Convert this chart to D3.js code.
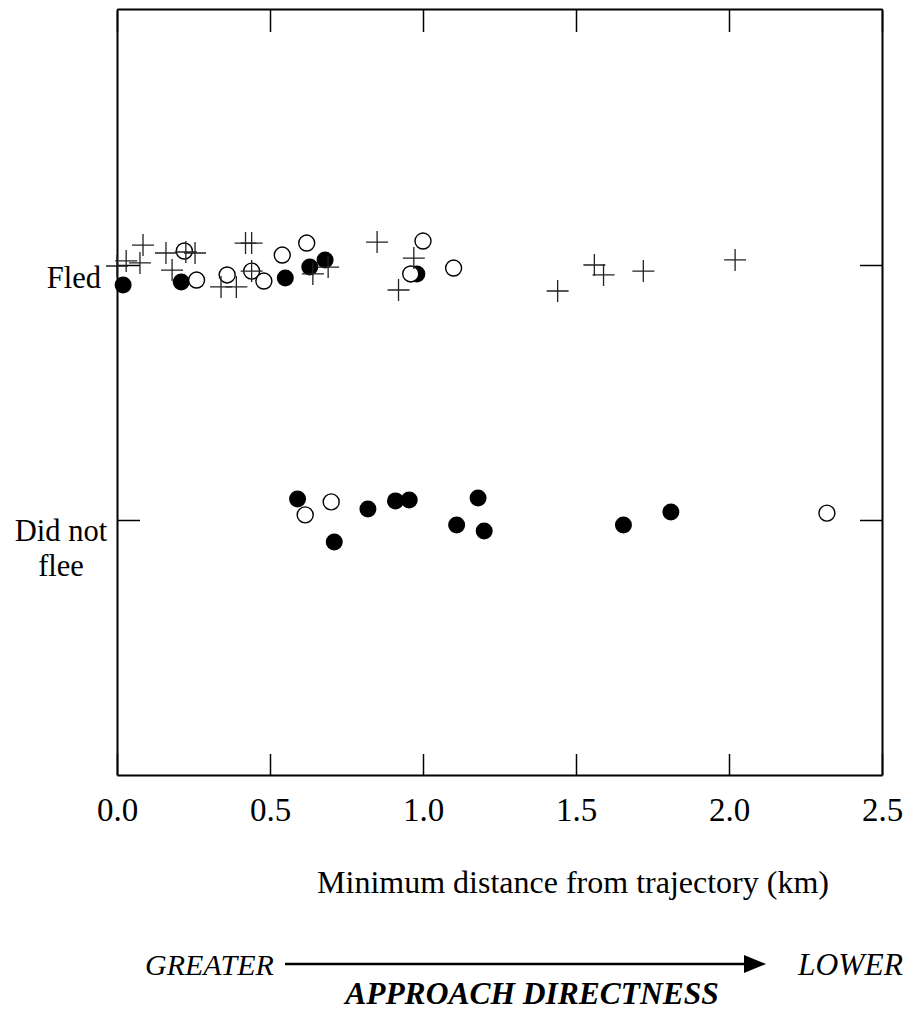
<!DOCTYPE html>
<html>
<head>
<meta charset="utf-8">
<script src="https://cdn.jsdelivr.net/npm/d3@7"></script>
<style>
  html, body { margin: 0; padding: 0; background: #fff; }
  svg { display: block; }
  text { font-family: "Liberation Serif", "Times New Roman", serif; fill: #000; }
</style>
</head>
<body>
<svg id="chart" width="915" height="1010"></svg>
<script>
// ---------- data ----------
const xTicks = [0, 0.5, 1.0, 1.5, 2.0, 2.5];
const categories = ["Did not flee", "Fled"];   // 0 = did not flee, 1 = fled

// Fled – plus markers (distance km, vertical jitter in category units)
const fledPlusDist   = [0.00, 0.03, 0.075, 0.085, 0.16, 0.18, 0.225, 0.255, 0.34, 0.39, 0.42, 0.44, 0.44, 0.64, 0.69, 0.85, 0.92, 0.97, 1.44, 1.56, 1.59, 1.72, 2.02];
const fledPlusJitter = [-0.004, 0.016, 0.008, 0.078, 0.047, -0.020, 0.051, 0.047, -0.086, -0.086, 0.086, 0.086, -0.024, -0.035, -0.008, 0.090, -0.098, 0.027, -0.102, 0.000, -0.039, -0.024, 0.020];

// Fled – filled circles
const fledFilledDist   = [0.02, 0.21, 0.55, 0.63, 0.68, 0.98];
const fledFilledJitter = [-0.078, -0.067, -0.051, -0.008, 0.020, -0.035];

// Fled – open circles
const fledOpenDist   = [0.22, 0.26, 0.36, 0.44, 0.48, 0.54, 0.62, 1.00, 0.96, 1.10];
const fledOpenJitter = [0.055, -0.059, -0.039, -0.024, -0.063, 0.039, 0.086, 0.094, -0.035, -0.012];

// Did not flee – filled circles
const dnfFilledDist   = [0.59, 0.71, 0.82, 0.91, 0.955, 1.11, 1.18, 1.20, 1.655, 1.81];
const dnfFilledJitter = [0.082, -0.086, 0.043, 0.075, 0.078, -0.020, 0.086, -0.043, -0.020, 0.031];

// Did not flee – open circles
const dnfOpenDist   = [0.615, 0.70, 2.32];
const dnfOpenJitter = [0.020, 0.071, 0.027];

// ---------- layout ----------
const svg = d3.select("#chart");
const L = 117, R = 882, T = 9, B = 775;
const x = d3.scaleLinear().domain([0, 2.5]).range([L, R]);
const y = d3.scaleLinear().domain([-1, 2]).range([B, T + 1]);

const pts = (dist, jit, cat) => dist.map((d, i) => ({ d, v: cat + jit[i] }));
const fledPlus   = pts(fledPlusDist, fledPlusJitter, 1);
const fledFilled = pts(fledFilledDist, fledFilledJitter, 1);
const fledOpen   = pts(fledOpenDist, fledOpenJitter, 1);
const dnfFilled  = pts(dnfFilledDist, dnfFilledJitter, 0);
const dnfOpen    = pts(dnfOpenDist, dnfOpenJitter, 0);

// ---------- axes ----------
const fmt = d3.format(".1f");
const gB = svg.append("g").attr("transform", `translate(0,${B})`)
  .call(d3.axisBottom(x).tickValues(xTicks).tickFormat(fmt).tickSizeInner(-21).tickSizeOuter(0).tickPadding(23));
const gT = svg.append("g").attr("transform", `translate(0,${T})`)
  .call(d3.axisTop(x).tickValues(xTicks).tickFormat("").tickSizeInner(-23).tickSizeOuter(0));
const gL = svg.append("g").attr("transform", `translate(${L},0)`)
  .call(d3.axisLeft(y).tickValues([0, 1]).tickFormat("").tickSizeInner(-23).tickSizeOuter(0));
const gR = svg.append("g").attr("transform", `translate(${R},0)`)
  .call(d3.axisRight(y).tickValues([0, 1]).tickFormat("").tickSizeInner(-22).tickSizeOuter(0));

[gB, gT, gL, gR].forEach(g => {
  g.select(".domain").attr("stroke", "#000").attr("stroke-width", 2);
  g.selectAll(".tick line").attr("stroke", "#000").attr("stroke-width", 1.5);
});
gB.selectAll(".tick text").attr("font-size", 33).attr("font-family", "Liberation Serif").attr("fill", "#000");

// Category labels
svg.append("text").attr("x", 101).attr("y", y(1) + 23).attr("text-anchor", "end")
  .attr("font-size", 30.5).text("Fled");
const dnf = svg.append("text").attr("x", 61).attr("y", y(0) + 21).attr("text-anchor", "middle").attr("font-size", 30.5);
dnf.append("tspan").attr("x", 61).text("Did not");
dnf.append("tspan").attr("x", 61).attr("dy", 35).text("flee");

// ---------- marks ----------
const R0 = 8.5;
const plot = svg.append("g");
plot.selectAll(".filled").data(fledFilled.concat(dnfFilled)).join("circle")
  .attr("class", "filled").attr("cx", p => x(p.d)).attr("cy", p => y(p.v)).attr("r", R0)
  .attr("fill", "#000");
plot.selectAll(".open").data(fledOpen.concat(dnfOpen)).join("circle")
  .attr("class", "open").attr("cx", p => x(p.d)).attr("cy", p => y(p.v)).attr("r", R0 - 0.5)
  .attr("fill", "#fff").attr("stroke", "#000").attr("stroke-width", 1.4);
plot.selectAll(".plus").data(fledPlus).join("path")
  .attr("class", "plus")
  .attr("d", p => { const cx = x(p.d), cy = y(p.v), h = 11;
    return `M${cx - h},${cy}H${cx + h}M${cx},${cy - h}V${cy + h}`; })
  .attr("fill", "none").attr("stroke", "#222").attr("stroke-width", 1.3);

// ---------- titles ----------
svg.append("text").attr("x", 573).attr("y", 893).attr("text-anchor", "middle")
  .attr("font-size", 32).text("Minimum distance from trajectory (km)");

svg.append("text").attr("x", 145).attr("y", 975).attr("font-size", 30).attr("font-style", "italic")
  .text("GREATER");
svg.append("text").attr("x", 903).attr("y", 975).attr("text-anchor", "end").attr("font-size", 31.5)
  .attr("font-style", "italic").text("LOWER");
svg.append("text").attr("x", 532).attr("y", 1004).attr("text-anchor", "middle").attr("font-size", 31.5)
  .attr("font-style", "italic").attr("font-weight", "bold").text("APPROACH DIRECTNESS");

svg.append("line").attr("x1", 285).attr("x2", 748).attr("y1", 964).attr("y2", 964)
  .attr("stroke", "#000").attr("stroke-width", 2.5);
svg.append("path").attr("d", "M744,955L766,964L744,973Z").attr("fill", "#000");
</script>
</body>
</html>
